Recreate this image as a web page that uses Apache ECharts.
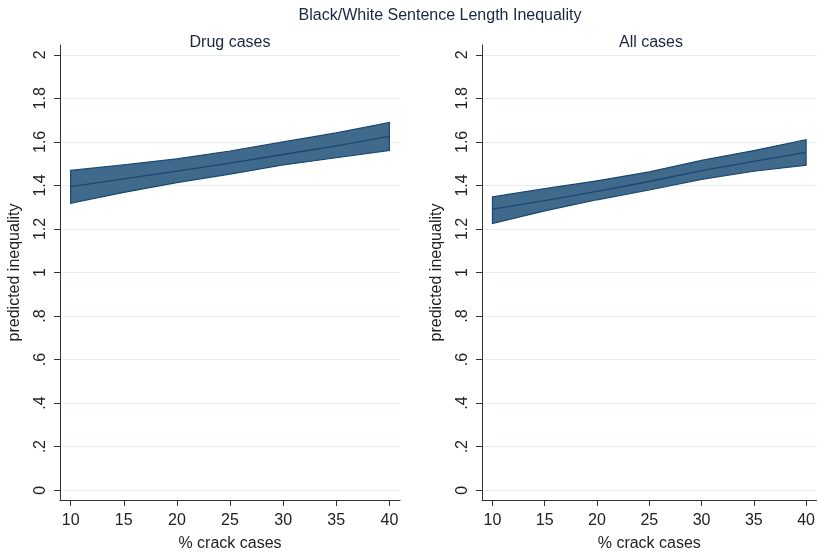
<!DOCTYPE html>
<html>
<head>
<meta charset="utf-8">
<script src="https://cdn.jsdelivr.net/npm/echarts@6/dist/echarts.min.js"></script>
<style>
html,body{margin:0;padding:0;background:#fff;}
#chart{width:818px;height:557px;}
</style>
</head>
<body>
<div id="chart"></div>
<script>
// Data
const crackPct = [10, 15, 20, 25, 30, 35, 40];
const drugMid   = [1.394, 1.430, 1.466, 1.502, 1.542, 1.582, 1.625];
const drugUpper = [1.469, 1.495, 1.522, 1.558, 1.600, 1.641, 1.689];
const drugLower = [1.318, 1.368, 1.413, 1.452, 1.494, 1.527, 1.561];
const allMid    = [1.291, 1.330, 1.373, 1.418, 1.468, 1.510, 1.552];
const allUpper  = [1.347, 1.385, 1.421, 1.462, 1.515, 1.560, 1.610];
const allLower  = [1.225, 1.283, 1.334, 1.379, 1.428, 1.465, 1.493];
const yTicks = [0, 0.2, 0.4, 0.6, 0.8, 1, 1.2, 1.4, 1.6, 1.8, 2];
const xTicks = [10, 15, 20, 25, 30, 35, 40];
const mainTitle = 'Black/White Sentence Length Inequality';
const panelTitles = ['Drug cases', 'All cases'];
const yName = 'predicted inequality';
const xName = '% crack cases';

const FONT = '"Liberation Sans", Arial, sans-serif';
const TXT = '#1a2540';
const FILL = '#406a8c';
const EDGE = '#1a476f';

function fmtY(v) {
  const r = Math.round(v * 10) / 10;
  let s = String(r);
  if (s.startsWith('0.')) s = s.slice(1);
  return s;
}

function makeX(idx) {
  return {
    type: 'value', gridIndex: idx, min: 9, max: 41,
    name: xName, nameLocation: 'middle', nameGap: 36,
    nameTextStyle: {fontFamily: FONT, fontSize: 16, color: '#222'},
    axisLine: {show: true, onZero: false, lineStyle: {color: '#333', width: 1}},
    axisTick: {show: true, length: 6, customValues: xTicks, lineStyle: {color: '#333'}},
    axisLabel: {customValues: xTicks, fontFamily: FONT, fontSize: 16, color: '#222', margin: 13},
    splitLine: {show: false}
  };
}
function makeY(idx) {
  return {
    type: 'value', gridIndex: idx, min: -0.045, max: 2.045,
    name: yName, nameLocation: 'middle', nameGap: 37, nameRotate: 90,
    nameTextStyle: {fontFamily: FONT, fontSize: 16, color: '#222'},
    axisLine: {show: true, onZero: false, lineStyle: {color: '#333', width: 1}},
    axisTick: {show: true, length: 6, customValues: yTicks, lineStyle: {color: '#333'}},
    axisLabel: {customValues: yTicks, rotate: 90, fontFamily: FONT, fontSize: 16, color: '#222', margin: 11,
                formatter: fmtY},
    splitLine: {show: true, lineStyle: {color: '#e4eef1', width: 1}}
  };
}
function band(idx, upper, lower) {
  return {
    type: 'custom', xAxisIndex: idx, yAxisIndex: idx, data: [0], silent: true, z: 2,
    renderItem: function (params, api) {
      const pts = [];
      for (let i = 0; i < crackPct.length; i++) pts.push(api.coord([crackPct[i], upper[i]]));
      for (let i = crackPct.length - 1; i >= 0; i--) pts.push(api.coord([crackPct[i], lower[i]]));
      return {type: 'polygon', shape: {points: pts}, style: {fill: FILL, stroke: EDGE, lineWidth: 1.2}};
    }
  };
}
function midLine(idx, mid) {
  return {
    type: 'line', xAxisIndex: idx, yAxisIndex: idx, z: 3, silent: true,
    data: crackPct.map((x, i) => [x, mid[i]]),
    showSymbol: false, symbol: 'none', smooth: false,
    lineStyle: {color: EDGE, width: 1.3}
  };
}

const chart = echarts.init(document.getElementById('chart'));
chart.setOption({
  backgroundColor: '#fff',
  animation: false,
  title: [
    {text: mainTitle, left: 440, top: 8, textAlign: 'center', padding: 0,
     textStyle: {fontFamily: FONT, fontSize: 16, fontWeight: 'normal', color: TXT}},
    {text: panelTitles[0], left: 230, top: 35, textAlign: 'center', padding: 0,
     textStyle: {fontFamily: FONT, fontSize: 16, fontWeight: 'normal', color: TXT}},
    {text: panelTitles[1], left: 651, top: 35, textAlign: 'center', padding: 0,
     textStyle: {fontFamily: FONT, fontSize: 16, fontWeight: 'normal', color: TXT}}
  ],
  grid: [
    {left: 60, right: 418, top: 45, bottom: 54},
    {left: 482, right: -2, top: 45, bottom: 54}
  ],
  xAxis: [makeX(0), makeX(1)],
  yAxis: [makeY(0), makeY(1)],
  series: [
    band(0, drugUpper, drugLower), midLine(0, drugMid),
    band(1, allUpper, allLower), midLine(1, allMid)
  ]
});
</script>
</body>
</html>
